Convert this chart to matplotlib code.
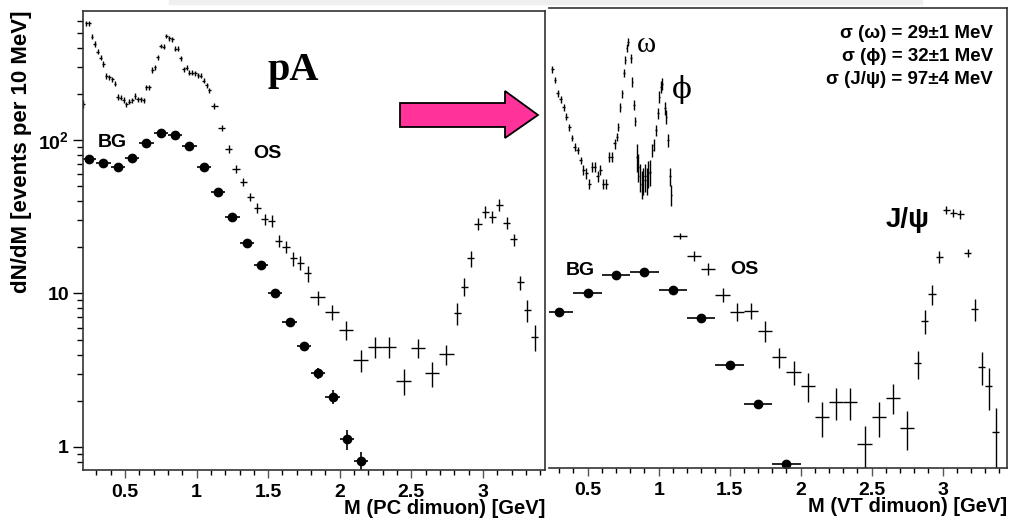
import matplotlib
matplotlib.use("Agg")
import matplotlib.pyplot as plt
from matplotlib.patches import Polygon, Rectangle
from matplotlib.ticker import FixedLocator, FixedFormatter, MultipleLocator, LogLocator, NullFormatter, FuncFormatter

# ---- PC dimuon (left panel) ----
# opposite-sign pairs, bin centre [GeV], counts, error, half bin width
pc_os_mass = [0.21,
              0.23, 0.25, 0.27, 0.29, 0.31, 0.33, 0.35, 0.37, 0.39, 0.41, 0.43,
              0.45, 0.47, 0.49, 0.51, 0.53, 0.55, 0.57, 0.59, 0.61, 0.63, 0.65,
              0.67, 0.69, 0.71, 0.73, 0.75, 0.77, 0.79, 0.81, 0.83, 0.85, 0.87,
              0.89, 0.91, 0.93, 0.95, 0.97, 0.99, 1.01, 1.03, 1.05, 1.07, 1.09,
              1.125, 1.175, 1.225, 1.275, 1.325, 1.375, 1.425, 1.475, 1.525,
              1.575, 1.625, 1.675, 1.725, 1.775,
              1.845, 1.945, 2.045, 2.145, 2.245, 2.345, 2.445, 2.545, 2.645, 2.745,
              2.82, 2.87, 2.915, 2.965, 3.015, 3.065, 3.115, 3.165, 3.215, 3.26,
              3.31, 3.36]
pc_os_counts = [172,
                575, 575, 471, 422, 376, 344, 313, 262, 256, 249, 232,
                190, 189, 182, 171, 178, 182, 194, 184, 184, 182, 220,
                220, 286, 298, 346, 410, 405, 476, 460, 453, 393, 393,
                341, 289, 296, 274, 274, 272, 265, 262, 243, 227, 210,
                167, 119, 87, 64.4, 53.5, 42.7, 35.9, 30.4, 29.8,
                22.1, 20.2, 16.9, 15.9, 13.5,
                9.45, 7.6, 5.78, 3.69, 4.5, 4.5, 2.7, 4.44, 3.02, 4.02,
                7.43, 11.1, 16.9, 28.4, 34.1, 31.7, 37.7, 28.9, 22.5, 11.8,
                7.8, 5.19]
pc_os_err = [10,
             23, 23, 19, 17, 15, 14, 13, 11, 10, 10, 9,
             8, 8, 8, 7, 7, 7, 8, 7, 7, 7, 9,
             9, 11, 12, 13, 15, 15, 17, 17, 17, 15, 15,
             13, 11, 11, 10, 10, 10, 10, 10, 9, 9, 8,
             7.5, 5.4, 5.2, 3.9, 3.2, 2.6, 2.7, 2.3, 2.7,
             2.0, 1.8, 1.8, 1.7, 1.6,
             1.0, 0.86, 0.82, 0.61, 0.68, 0.68, 0.53, 0.63, 0.57, 0.6,
             1.2, 1.45, 2.0, 2.6, 3.1, 2.9, 3.4, 2.6, 2.0, 1.25,
             1.3, 1.0]
pc_os_halfwidth = [0.01] * 45 + [0.025] * 14 + [0.05] * 10 + [0.025] * 12

# combinatorial background
pc_bg_mass = [0.25, 0.35, 0.45, 0.55, 0.65, 0.75, 0.85, 0.95, 1.05, 1.15,
              1.25, 1.35, 1.45, 1.55, 1.65, 1.75, 1.85, 1.95, 2.05, 2.15]
pc_bg_counts = [75.2, 70.5, 67.0, 76.7, 95.1, 110.6, 107.9, 91.4, 66.4, 46.1,
                31.7, 21.2, 15.3, 10.1, 6.49, 4.55, 3.02, 2.13, 1.12, 0.81]
pc_bg_err = [1.2, 1.2, 1.1, 1.2, 1.4, 1.6, 1.6, 1.4, 1.1, 0.8,
             0.6, 0.45, 0.35, 0.3, 0.3, 0.27, 0.23, 0.22, 0.17, 0.12]

# ---- VT dimuon (right panel) ----
vt_os_mass = [0.25, 0.27, 0.29, 0.31, 0.33, 0.35, 0.37, 0.39, 0.41, 0.43,
              0.45, 0.47, 0.49, 0.51, 0.53, 0.55, 0.57, 0.59, 0.61, 0.63,
              0.65, 0.67, 0.69, 0.705, 0.715, 0.73, 0.745, 0.755, 0.765, 0.775,
              0.785, 0.805, 0.815, 0.825, 0.835, 0.845, 0.855, 0.865, 0.88, 0.89,
              0.905, 0.915, 0.925, 0.94, 0.955, 0.965, 0.98, 0.995, 1.005, 1.015,
              1.025, 1.045, 1.055, 1.065, 1.08, 1.09,
              1.15, 1.25, 1.35, 1.45, 1.55, 1.65, 1.75, 1.85, 1.95, 2.05,
              2.15, 2.25, 2.35, 2.45, 2.55, 2.65, 2.75,
              2.825, 2.875, 2.925, 2.975, 3.025, 3.075, 3.125, 3.175, 3.225,
              3.275, 3.325, 3.375]
vt_os_counts = [290, 246, 201, 184, 163, 142, 121, 103, 90, 86,
                74, 64, 61, 52, 67, 67, 58, 64, 52, 52,
                78, 78, 95, 105, 122, 163, 201, 272, 332, 396,
                437, 341, 240, 169, 132, 78, 67, 58, 52, 55,
                58, 55, 61, 62, 86, 93, 116, 149, 191, 222,
                232, 161, 142, 100, 58, 44,
                23.7, 17.6, 14.4, 9.78, 7.61, 7.73, 5.72, 3.84, 3.09, 2.5,
                1.56, 1.97, 1.97, 1.05, 1.56, 2.1, 1.34,
                3.51, 6.62, 9.93, 17.4, 35.0, 33.3, 32.8, 18.3, 7.89,
                3.34, 2.5, 1.26]
vt_os_err = [15, 12, 10, 9, 8, 7, 6, 5, 5, 4.5,
             4, 5, 5, 4, 5, 5, 5, 5, 4, 4,
             6, 6, 7, 6, 7, 10, 12, 16, 20, 24,
             26, 24, 17, 12, 9, 16, 14, 12, 11, 11,
             12, 11, 12, 12, 8, 8, 10, 13, 17, 20,
             21, 16, 14, 10, 8, 7,
             1.07, 1.32, 1.3, 1.03, 1.03, 0.93, 0.86, 0.58, 0.56, 0.53,
             0.4, 0.47, 0.47, 0.33, 0.4, 0.47, 0.38,
             0.74, 1.19, 1.49, 1.57, 2.1, 2.0, 2.0, 1.1, 1.3,
             0.8, 0.75, 0.53]
vt_os_halfwidth = [0.01] * 23 + [0.005] * 33 + [0.05] * 17 + [0.025] * 12

vt_bg_mass = [0.3, 0.5, 0.7, 0.9, 1.1, 1.3, 1.5, 1.7, 1.9]
vt_bg_counts = [7.58, 10.1, 13.2, 13.9, 10.5, 6.89, 3.42, 1.9, 0.78]

sigma_lines = ["\u03c3 (\u03c9) = 29\u00b11 MeV",
               "\u03c3 (\u03d5) = 32\u00b11 MeV",
               "\u03c3 (J/\u03c8) = 97\u00b14 MeV"]

plt.rcParams["font.family"] = ["Liberation Sans", "DejaVu Sans"]
plt.rcParams["font.weight"] = "bold"
plt.rcParams["mathtext.fontset"] = "custom"
plt.rcParams["mathtext.rm"] = "Liberation Sans:bold"
plt.rcParams["mathtext.it"] = "Liberation Sans:bold"
plt.rcParams["mathtext.bf"] = "Liberation Sans:bold"

W, H = 1010, 520


def fx(px):
    return px / W


def fy(py):
    return 1 - py / H


fig = plt.figure(figsize=(W / 100, H / 100), dpi=100)

# faint strip along the top edge
fig.patches.append(Rectangle((fx(169), fy(4)), fx(922) - fx(169), 4 / H,
                             transform=fig.transFigure, color="#efefef", zorder=0))

ax1 = fig.add_axes([fx(83), fy(470), fx(545) - fx(83), fy(11) - fy(470)])
ax2 = fig.add_axes([fx(549), fy(468), fx(1007) - fx(549), fy(8) - fy(468)])


def style_x(ax, label):
    ax.xaxis.set_major_locator(MultipleLocator(0.5))
    ax.xaxis.set_minor_locator(MultipleLocator(0.1))
    ax.xaxis.set_major_formatter(FuncFormatter(lambda v, _: f"{v:g}"))
    ax.tick_params(axis="x", which="major", direction="out", length=6, width=1,
                   labelsize=14, pad=4, color="#555555")
    ax.tick_params(axis="x", which="minor", direction="out", length=3.5, width=1)
    ax.set_xlabel(label, fontsize=14.5, fontweight="bold", loc="right", labelpad=-1)
    for s in ax.spines.values():
        s.set_linewidth(1.2)
        s.set_color("#333333")


# left panel
ax1.set_yscale("log")
ax1.set_xlim(0.207, 3.433)
ax1.set_ylim(0.708, 692)
ax1.errorbar(pc_os_mass, pc_os_counts, yerr=pc_os_err, xerr=pc_os_halfwidth,
             fmt="none", ecolor="black", elinewidth=1.0, capsize=0)
ax1.errorbar(pc_bg_mass, pc_bg_counts, yerr=pc_bg_err, xerr=0.05,
             fmt="o", color="black", ms=6, elinewidth=1.2, capsize=0)
ax1.yaxis.set_major_locator(FixedLocator([1, 10, 100]))
ax1.yaxis.set_major_formatter(FixedFormatter(["1", "10", r"$10^{2}$"]))
ax1.yaxis.set_minor_locator(LogLocator(base=10, subs=range(2, 10)))
ax1.yaxis.set_minor_formatter(NullFormatter())
ax1.tick_params(axis="y", which="major", direction="out", length=7, width=1,
                labelsize=14, pad=3)
ax1.tick_params(axis="y", which="minor", direction="out", length=4, width=1)
style_x(ax1, "M (PC dimuon) [GeV]")

# right panel
ax2.set_yscale("log")
ax2.set_xlim(0.2275, 3.453)
ax2.set_ylim(0.73, 724)
ax2.errorbar(vt_os_mass, vt_os_counts, yerr=vt_os_err, xerr=vt_os_halfwidth,
             fmt="none", ecolor="black", elinewidth=1.0, capsize=0)
ax2.errorbar(vt_bg_mass, vt_bg_counts, xerr=0.1,
             fmt="o", color="black", ms=6, elinewidth=1.2, capsize=0)
ax2.yaxis.set_major_locator(FixedLocator([]))
ax2.yaxis.set_minor_locator(FixedLocator([]))
ax2.spines["left"].set_visible(False)
style_x(ax2, "M (VT dimuon) [GeV]")

fig.text(fx(22), fy(152), "dN/dM [events per 10 MeV]", rotation=90,
         ha="center", va="center", fontsize=16, fontweight="bold")

# labels inside panels
fig.text(fx(293), fy(80), "pA", ha="center", va="baseline", fontsize=29,
         family=["Liberation Serif", "DejaVu Serif"], fontweight="bold")
fig.text(fx(112), fy(147), "BG", ha="center", va="baseline", fontsize=14)
fig.text(fx(267), fy(158), "OS", ha="center", va="baseline", fontsize=14)
fig.text(fx(580), fy(275), "BG", ha="center", va="baseline", fontsize=14)
fig.text(fx(744), fy(274), "OS", ha="center", va="baseline", fontsize=14)
fig.text(fx(646), fy(52), "\u03c9", ha="center", va="baseline", fontsize=21,
         family=["Liberation Serif", "DejaVu Serif"], fontweight="normal")
fig.text(fx(682), fy(89), "\u03d5", ha="center", va="center", fontsize=21,
         family=["DejaVu Serif"], fontweight="normal")
fig.text(fx(908), fy(227), "J/\u03c8", ha="center", va="baseline", fontsize=20)
for i, line in enumerate(sigma_lines):
    fig.text(fx(993), fy(38 + 23 * i), line, ha="right", va="baseline", fontsize=13.5)

# pink arrow between the panels
arrow = Polygon([(fx(400), fy(103)), (fx(505), fy(103)), (fx(505), fy(91)),
                 (fx(538), fy(115)), (fx(505), fy(138)), (fx(505), fy(127)),
                 (fx(400), fy(127))], closed=True, transform=fig.transFigure,
                facecolor="#ff3399", edgecolor="black", linewidth=1.3, zorder=5)
fig.patches.append(arrow)

fig.savefig("out.png", dpi=100)
